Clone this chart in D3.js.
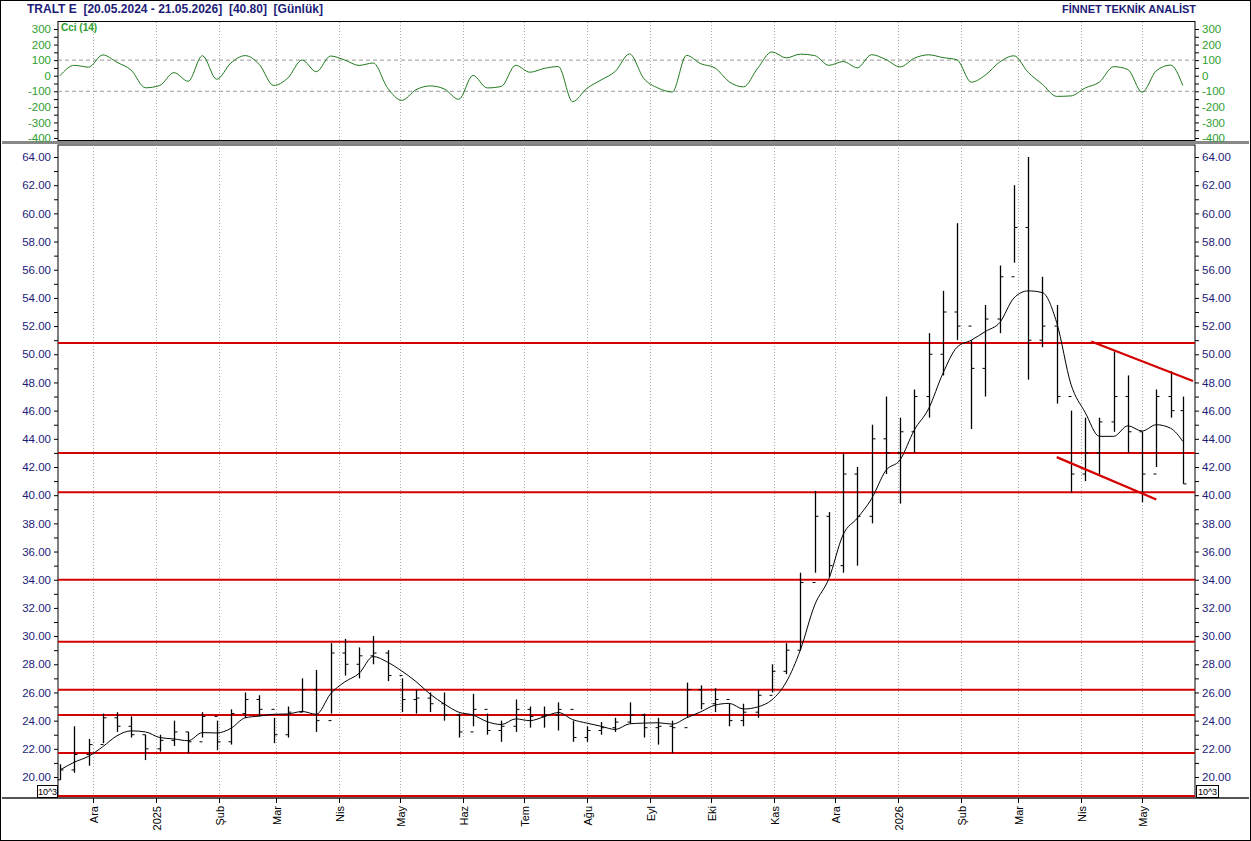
<!DOCTYPE html>
<html><head><meta charset="utf-8">
<script src="https://cdn.jsdelivr.net/npm/d3@7"></script>
<style>body{margin:0;background:#fff}svg{display:block}</style>
</head><body>
<svg id="c" width="1251" height="841"></svg>
<script>
const dates=["2024-11-15","2024-11-22","2024-11-29","2024-12-06","2024-12-13","2024-12-20","2024-12-27","2025-01-03","2025-01-10","2025-01-17","2025-01-24","2025-01-31","2025-02-07","2025-02-14","2025-02-21","2025-02-28","2025-03-07","2025-03-14","2025-03-21","2025-03-28","2025-04-04","2025-04-11","2025-04-18","2025-04-25","2025-05-02","2025-05-09","2025-05-16","2025-05-23","2025-05-30","2025-06-06","2025-06-13","2025-06-20","2025-06-27","2025-07-04","2025-07-11","2025-07-18","2025-07-25","2025-08-01","2025-08-08","2025-08-15","2025-08-22","2025-08-29","2025-09-05","2025-09-12","2025-09-19","2025-09-26","2025-10-03","2025-10-10","2025-10-17","2025-10-24","2025-10-31","2025-11-07","2025-11-14","2025-11-21","2025-11-28","2025-12-05","2025-12-12","2025-12-19","2025-12-26","2026-01-02","2026-01-09","2026-01-16","2026-01-23","2026-01-30","2026-02-06","2026-02-13","2026-02-20","2026-02-27","2026-03-06","2026-03-13","2026-03-20","2026-03-27","2026-04-03","2026-04-10","2026-04-17","2026-04-24","2026-05-01","2026-05-08","2026-05-15","2026-05-21"];
const lows=[19.8,20.3,20.8,22.4,23.2,22.8,21.2,21.8,22.2,21.7,22.8,21.9,22.3,24.2,24.3,22.4,22.8,24.6,23.2,24.5,27.2,27.0,28.0,26.8,24.6,24.5,24.6,24.0,22.8,23.6,23.0,22.5,23.2,23.5,23.5,23.3,22.5,22.5,23.0,23.2,23.8,22.8,22.3,21.7,24.2,24.8,24.6,23.6,23.6,24.2,26.0,27.3,29.0,34.5,34.2,34.5,35.0,38.0,41.5,39.4,43.0,45.5,48.5,51.0,44.7,47.0,51.5,56.5,48.2,50.5,46.5,40.2,41.0,41.5,44.5,43.0,39.5,42.0,45.5,40.8];
const highs=[20.9,23.6,22.7,24.5,24.6,24.3,23.0,23.0,24.0,23.2,24.6,24.0,24.8,26.0,25.8,24.2,25.0,27.0,27.6,29.5,29.8,29.2,30.0,29.0,27.0,26.2,26.0,26.0,24.5,25.9,24.5,24.0,25.5,25.0,25.0,25.3,24.0,23.6,23.9,24.2,25.3,24.5,24.2,24.0,26.7,26.5,26.3,25.2,25.2,26.2,28.0,29.5,34.5,40.3,38.8,43.0,42.0,45.0,47.0,45.5,47.5,51.5,54.5,59.3,51.0,53.5,56.3,62.0,64.0,55.5,53.5,46.0,45.5,45.5,50.2,48.5,44.5,47.5,48.8,47.0];
const closes=[20.5,21.6,22.3,24.2,23.6,23.0,22.0,22.6,23.2,22.5,24.3,22.5,24.5,25.5,24.8,23.0,24.6,26.2,24.0,28.8,28.0,28.6,28.8,27.2,25.5,25.6,25.2,24.4,23.2,24.8,23.3,23.6,24.8,24.3,24.4,24.8,22.8,23.3,23.5,23.9,24.4,23.5,23.6,23.5,26.2,25.2,25.5,24.0,24.6,25.8,27.5,29.0,33.8,38.5,35.0,41.5,38.5,44.0,43.0,44.5,47.0,50.0,53.0,52.0,49.0,52.5,55.5,59.0,51.0,52.0,47.0,41.5,43.0,45.2,47.0,44.5,41.5,47.0,46.0,40.8];
const hLevels=[21.7,24.4,26.2,29.6,34.0,40.2,43.0,50.8];
const trendUpper=[["2026-04-06",50.9],["2026-05-26",48.1]];
const trendLower=[["2026-03-20",42.7],["2026-05-08",39.7]];
const cciTicks=[300,200,100,0,-100,-200,-300,-400];
const monthTicks=[["2024-12-01","Ara"],["2025-01-01","2025"],["2025-02-01","Şub"],["2025-03-01","Mar"],["2025-04-01","Nis"],["2025-05-01","May"],["2025-06-01","Haz"],["2025-07-01","Tem"],["2025-08-01","Ağu"],["2025-09-01","Eyl"],["2025-10-01","Eki"],["2025-11-01","Kas"],["2025-12-01","Ara"],["2026-01-01","2026"],["2026-02-01","Şub"],["2026-03-01","Mar"],["2026-04-01","Nis"],["2026-05-01","May"]];

const P=d3.timeParse("%Y-%m-%d");
const svg=d3.select("#c");
const L=58,R=1195;
const x=d3.scaleTime().domain([P("2024-11-14"),P("2026-05-27")]).range([L,R]);
const y=d3.scaleLinear().domain([20,64]).range([777,157]);
const yc=d3.scaleLinear().domain([-400,300]).range([138,29]);
const navy="#1c1c78", green="#2e9e2e", red="#d40000";
const font="Arial, 'Liberation Sans', sans-serif";

svg.append("rect").attr("x",0.5).attr("y",0.5).attr("width",1250).attr("height",840).attr("fill","#fff").attr("stroke","#000");
svg.append("text").attr("x",27).attr("y",13).attr("font-family",font).attr("font-size",12).attr("fill",navy).attr("font-weight","bold")
 .attr("xml:space","preserve").text("TRALT E  [20.05.2024 - 21.05.2026]  [40.80]  [Günlük]");
svg.append("text").attr("x",1196).attr("y",13).attr("text-anchor","end").attr("font-family",font).attr("font-size",11).attr("fill",navy).attr("font-weight","bold").text("FİNNET TEKNİK ANALİST");

svg.append("rect").attr("x",L).attr("y",21.5).attr("width",R-L).attr("height",119).attr("fill","none").attr("stroke","#000");
svg.append("rect").attr("x",2).attr("y",141).attr("width",1247).attr("height",3).attr("fill","#888");
svg.append("rect").attr("x",L).attr("y",145).attr("width",R-L).attr("height",652).attr("fill","none").attr("stroke","#000");
svg.append("line").attr("x1",2).attr("x2",1249).attr("y1",798).attr("y2",798).attr("stroke","#555").attr("stroke-width",2);

monthTicks.forEach(([d,t])=>{
  const xx=Math.round(x(P(d)))+0.5;
  [[22,140],[145,797]].forEach(([a,b])=>svg.append("line").attr("x1",xx).attr("x2",xx).attr("y1",a).attr("y2",b).attr("stroke","#aaa").attr("stroke-dasharray","1,2"));
  svg.append("line").attr("x1",xx).attr("x2",xx).attr("y1",798).attr("y2",803).attr("stroke","#000");
  svg.append("text").attr("transform",`translate(${xx+4},806) rotate(-90)`).attr("text-anchor","end").attr("font-family",font).attr("font-size",11).attr("fill","#000").text(t);
});

[100,-100].forEach(v=>svg.append("line").attr("x1",L).attr("x2",R).attr("y1",yc(v)).attr("y2",yc(v)).attr("stroke","#999").attr("stroke-dasharray","4,3"));
const cciAxL=d3.axisLeft(yc).tickValues(d3.range(-400,301,50)).tickSize(4).tickFormat(d=>cciTicks.includes(d)?d:"");
const cciAxR=d3.axisRight(yc).tickValues(d3.range(-400,301,50)).tickSize(4).tickFormat(d=>cciTicks.includes(d)?d:"");
[[cciAxL,L],[cciAxR,R]].forEach(([ax,px])=>{
  const g=svg.append("g").attr("transform",`translate(${px},0)`).call(ax);
  g.select(".domain").remove();
  g.selectAll("text").attr("font-family",font).attr("font-size",11.5).attr("fill",green);
  g.selectAll("line").attr("stroke","#000");
});
const minor=d3.range(20,64.01,1);
const pAxL=d3.axisLeft(y).tickValues(minor).tickSize(4).tickFormat(d=>d%2===0?d.toFixed(2):"");
const pAxR=d3.axisRight(y).tickValues(minor).tickSize(4).tickFormat(d=>d%2===0?d.toFixed(2):"");
[[pAxL,L],[pAxR,R]].forEach(([ax,px])=>{
  const g=svg.append("g").attr("transform",`translate(${px},0)`).call(ax);
  g.select(".domain").remove();
  g.selectAll("text").attr("font-family",font).attr("font-size",11.5).attr("fill",navy);
  g.selectAll("line").attr("stroke","#000");
});
svg.append("rect").attr("x",37.5).attr("y",785.5).attr("width",20).attr("height",12).attr("fill","#fff").attr("stroke","#000");
svg.append("text").attr("x",47.5).attr("y",795).attr("text-anchor","middle").attr("font-family",font).attr("font-size",9).text("10^3");
svg.append("rect").attr("x",1196.5).attr("y",785.5).attr("width",22).attr("height",12).attr("fill","#fff").attr("stroke","#000");
svg.append("text").attr("x",1207.5).attr("y",795).attr("text-anchor","middle").attr("font-family",font).attr("font-size",9).text("10^3");

const plot=svg.append("g");
hLevels.forEach(v=>plot.append("line").attr("x1",L).attr("x2",R).attr("y1",y(v)).attr("y2",y(v)).attr("stroke",red).attr("stroke-width",2));
plot.append("line").attr("x1",L).attr("x2",R).attr("y1",796).attr("y2",796).attr("stroke",red).attr("stroke-width",2);

const data=dates.map((d,i)=>({d:P(d),lo:lows[i],hi:highs[i],cl:closes[i],op:i?closes[i-1]:lows[i]}));
data.forEach(b=>{
  const xx=Math.round(x(b.d))+0.5;
  plot.append("line").attr("x1",xx).attr("x2",xx).attr("y1",y(b.hi)).attr("y2",y(b.lo)).attr("stroke","#000").attr("stroke-width",1.3);
  plot.append("line").attr("x1",xx-3).attr("x2",xx).attr("y1",y(b.op)).attr("y2",y(b.op)).attr("stroke","#000");
  plot.append("line").attr("x1",xx).attr("x2",xx+3).attr("y1",y(b.cl)).attr("y2",y(b.cl)).attr("stroke","#000");
});
const ma=data.map((b,i)=>{const s=data.slice(Math.max(0,i-3),i+1);return {d:b.d,v:d3.mean(s,e=>e.cl)};});
plot.append("path").datum(ma).attr("fill","none").attr("stroke","#000").attr("stroke-width",1)
 .attr("d",d3.line().x(e=>x(e.d)).y(e=>y(e.v)).curve(d3.curveMonotoneX));
[trendUpper,trendLower].forEach(t=>plot.append("line").attr("x1",x(P(t[0][0]))).attr("y1",y(t[0][1])).attr("x2",x(P(t[1][0]))).attr("y2",y(t[1][1])).attr("stroke",red).attr("stroke-width",2.2));

const N=5;
const tp=data.map(b=>(b.hi+b.lo+b.cl)/3);
const cci=data.map((b,i)=>{const s=tp.slice(Math.max(0,i-N+1),i+1);const m=d3.mean(s);const md=d3.mean(s,v=>Math.abs(v-m))||1;return {d:b.d,v:Math.max(-380,Math.min(280,(tp[i]-m)/(0.015*md)))};});
svg.append("path").datum(cci).attr("fill","none").attr("stroke","#1f7a1f").attr("stroke-width",1)
 .attr("d",d3.line().x(e=>x(e.d)).y(e=>yc(e.v)).curve(d3.curveMonotoneX));
svg.append("text").attr("x",61).attr("y",31).attr("font-family",font).attr("font-size",10).attr("font-weight","bold").attr("fill",green).text("Cci (14)");
</script></body></html>
